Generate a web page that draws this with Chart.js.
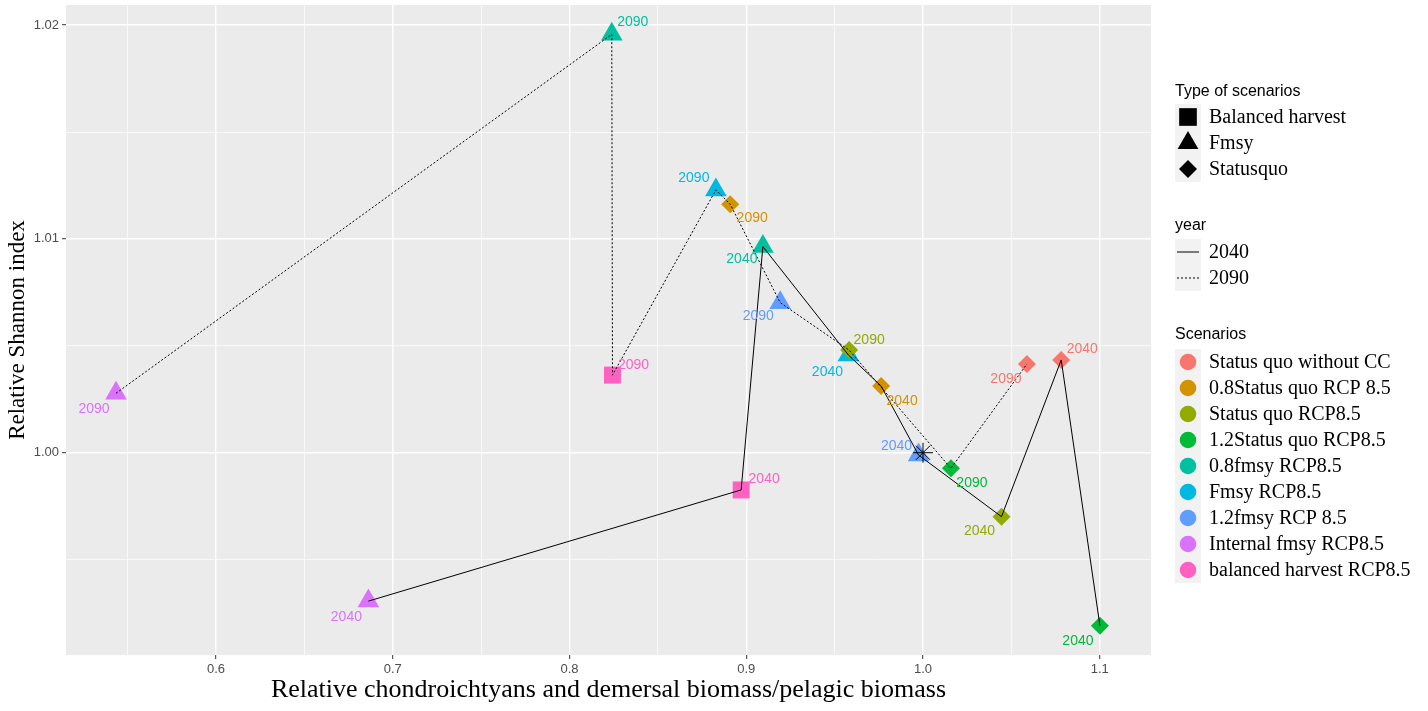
<!DOCTYPE html>
<html>
<head>
<meta charset="utf-8">
<script src="https://cdn.jsdelivr.net/npm/chart.js@4.4.1/dist/chart.umd.min.js"></script>
<style>
  html, body { margin: 0; padding: 0; background: #fff; }
  #wrap { width: 1428px; height: 711px; }
</style>
</head>
<body>
<div id="wrap"><canvas id="chart" width="1428" height="711"></canvas></div>
<script>
// Scenarios, colours and type of each one
const scenarioNames = ['Status quo without CC', '0.8Status quo RCP 8.5', 'Status quo RCP8.5', '1.2Status quo RCP8.5',
  '0.8fmsy RCP8.5', 'Fmsy RCP8.5', '1.2fmsy RCP 8.5', 'Internal fmsy RCP8.5', 'balanced harvest RCP8.5']
const scenarioColors = ['#F8766D', '#D39200', '#93AA00', '#00BA38', '#00C19F', '#00B9E3', '#619CFF', '#DB72FB', '#FF61C3']
const scenarioType = ['Statusquo', 'Statusquo', 'Statusquo', 'Statusquo', 'Fmsy', 'Fmsy', 'Fmsy', 'Fmsy', 'Balanced harvest']
const typeNames = ['Balanced harvest', 'Fmsy', 'Statusquo']
const yearNames = ['2040', '2090']

// Values (same order as scenarioNames)
const x2040 = [1.0782, 0.9763, 1.0444, 1.1001, 0.9094, 0.9578, 0.9975, 0.6862, 0.8971]
const y2040 = [1.00434, 1.00312, 0.99701, 0.99191, 1.00964, 1.00457, 0.99989, 0.99306, 0.99826]
const x2090 = [1.0588, 0.8909, 0.9582, 1.0158, 0.8239, 0.8828, 0.9192, 0.5434, 0.8243]
const y2090 = [1.00415, 1.01162, 1.0048, 0.99927, 1.01957, 1.01229, 1.00702, 1.00278, 1.00363]
const refX = [1.0]
const refY = [1.0]

// Axis ticks
const xMajor = [0.6, 0.7, 0.8, 0.9, 1.0, 1.1]
const xMinor = [0.55, 0.65, 0.75, 0.85, 0.95, 1.05]
const yMajor = [1.0, 1.01, 1.02]
const yMinor = [0.995, 1.005, 1.015]

// -------------------------

const shapeOf = {
  'Balanced harvest': { style: 'rect', r: 12 },
  'Fmsy': { style: 'triangle', r: 12.5 },
  'Statusquo': { style: 'rectRot', r: 9 },
}

// pixel offsets of the year labels (text centre), like ggrepel put them
const nudge2040 = [[21, -11], [21, 15], [-22, 14], [-22, 15], [-21, 13], [-21, 17], [-22, -9], [-22, 16], [23, -11]]
const nudge2090 = [[-21, 15], [22, 14], [20, -10], [21, 15], [21, -12], [-22, -12], [-22, 14], [-22, 16], [21, -10]]

const isIn = (list, v) => list.some((m) => Math.abs(m - v) < 1e-9)

const sortedLine = (xs, ys) => xs.map((x, i) => ({ x, y: ys[i] })).sort((a, b) => a.x - b.x)

const scenarioDatasets = scenarioNames.map((name, i) => {
  const shape = shapeOf[scenarioType[i]]
  return {
    label: name,
    data: [
      { x: x2040[i], y: y2040[i], year: '2040' },
      { x: x2090[i], y: y2090[i], year: '2090' },
    ],
    pointStyle: shape.style,
    pointRadius: shape.r,
    backgroundColor: scenarioColors[i],
    borderWidth: 0,
    order: 2,
  }
})

const lineDatasets = [
  {
    label: '2040',
    data: sortedLine(x2040, y2040),
    showLine: true,
    pointRadius: 0,
    borderColor: '#000',
    borderWidth: 1,
    order: 1,
  },
  {
    label: '2090',
    data: sortedLine(x2090, y2090),
    showLine: true,
    pointRadius: 0,
    borderColor: '#000',
    borderWidth: 1,
    borderDash: [2, 2],
    order: 1,
  },
  {
    label: 'ref',
    data: refX.map((x, i) => ({ x, y: refY[i] })),
    pointStyle: 'star',
    pointRadius: 10,
    borderColor: '#000',
    borderWidth: 1,
    backgroundColor: '#000',
    order: 0,
  },
]

// Panel background
const panelBg = {
  id: 'panelBg',
  beforeDraw(chart) {
    const { ctx, chartArea: a } = chart
    ctx.save()
    ctx.fillStyle = '#EBEBEB'
    ctx.fillRect(a.left, a.top, a.right - a.left, a.bottom - a.top)
    ctx.restore()
  },
}

// Year labels next to the points
const yearLabels = {
  id: 'yearLabels',
  afterDatasetsDraw(chart) {
    const { ctx } = chart
    ctx.save()
    ctx.font = '14px "Liberation Sans", Arial, sans-serif'
    ctx.textAlign = 'center'
    ctx.textBaseline = 'middle'
    scenarioNames.forEach((_, i) => {
      const meta = chart.getDatasetMeta(i)
      meta.data.forEach((pt, j) => {
        const n = j === 0 ? nudge2040[i] : nudge2090[i]
        ctx.fillStyle = scenarioColors[i]
        ctx.fillText(yearNames[j], pt.x + n[0], pt.y + n[1])
      })
    })
    ctx.restore()
  },
}

// Axis titles and the three legends on the right
const sideLegend = {
  id: 'sideLegend',
  afterDraw(chart) {
    const { ctx, chartArea: a } = chart
    const drawPoint = Chart.helpers.drawPoint
    ctx.save()

    ctx.fillStyle = '#000'
    ctx.textAlign = 'center'
    ctx.textBaseline = 'middle'
    ctx.font = '26px "Liberation Serif", "Times New Roman", serif'
    ctx.fillText('Relative chondroichtyans and demersal biomass/pelagic biomass', (a.left + a.right) / 2, 690)
    ctx.font = '23px "Liberation Serif", "Times New Roman", serif'
    ctx.save()
    ctx.translate(18, (a.top + a.bottom) / 2)
    ctx.rotate(-Math.PI / 2)
    ctx.fillText('Relative Shannon index', 0, 0)
    ctx.restore()

    const keyX = 1175
    const keyW = 26
    const rowH = 26
    const textX = 1209
    const titleFont = '16px "Liberation Sans", Arial, sans-serif'
    const labelFont = '20px "Liberation Serif", "Times New Roman", serif'

    const block = (title, titleY, top, n, drawKey, labels) => {
      ctx.font = titleFont
      ctx.textAlign = 'left'
      ctx.textBaseline = 'alphabetic'
      ctx.fillStyle = '#000'
      ctx.fillText(title, keyX, titleY)
      ctx.fillStyle = '#F2F2F2'
      ctx.fillRect(keyX, top, keyW, rowH * n)
      for (let i = 0; i < n; i++) {
        const cy = top + rowH * i + rowH / 2
        drawKey(i, keyX + keyW / 2, cy)
        ctx.font = labelFont
        ctx.textBaseline = 'middle'
        ctx.fillStyle = '#000'
        ctx.fillText(labels[i], textX, cy + 1)
      }
    }

    block('Type of scenarios', 96, 104, typeNames.length, (i, cx, cy) => {
      const s = typeNames[i]
      const opts = {
        'Balanced harvest': { pointStyle: 'rect', radius: 12.5 },
        'Fmsy': { pointStyle: 'triangle', radius: 12 },
        'Statusquo': { pointStyle: 'rectRot', radius: 9 },
      }[s]
      ctx.fillStyle = '#000'
      drawPoint(ctx, { ...opts, borderWidth: 0, rotation: 0 }, cx, cy)
    }, typeNames)

    block('year', 230, 239, yearNames.length, (i, cx, cy) => {
      ctx.strokeStyle = '#000'
      ctx.lineWidth = 1
      ctx.setLineDash(i === 0 ? [] : [2, 2])
      ctx.beginPath()
      ctx.moveTo(keyX + 2, cy)
      ctx.lineTo(keyX + keyW - 2, cy)
      ctx.stroke()
      ctx.setLineDash([])
    }, yearNames)

    block('Scenarios', 339, 349, scenarioNames.length, (i, cx, cy) => {
      ctx.fillStyle = scenarioColors[i]
      ctx.beginPath()
      ctx.arc(cx, cy, 8.3, 0, Math.PI * 2)
      ctx.fill()
    }, scenarioNames)

    ctx.restore()
  },
}

const gridWidth = (majors) => (c) => (c.tick && isIn(majors, c.tick.value) ? 1.4 : 0.7)
const tickColor = (majors) => (c) => (c.tick && isIn(majors, c.tick.value) ? '#333333' : 'rgba(0,0,0,0)')

new Chart(document.getElementById('chart').getContext('2d'), {
  type: 'scatter',
  data: {
    datasets: [...scenarioDatasets, ...lineDatasets],
  },
  options: {
    responsive: false,
    animation: false,
    devicePixelRatio: 1,
    layout: { autoPadding: false, padding: { top: 5, right: 277, left: 0, bottom: 0 } },
    plugins: {
      legend: { display: false },
      tooltip: { enabled: false },
    },
    scales: {
      x: {
        type: 'linear',
        min: 0.5151,
        max: 1.129,
        afterBuildTicks: (s) => { s.ticks = [...xMinor, ...xMajor].sort((p, q) => p - q).map((v) => ({ value: v })) },
        afterFit: (s) => { s.height = 56; s.paddingLeft = 0; s.paddingRight = 0 },
        border: { display: false },
        grid: { color: '#FFFFFF', lineWidth: gridWidth(xMajor), tickColor: tickColor(xMajor), tickLength: 4, tickWidth: 1 },
        ticks: {
          autoSkip: false,
          maxRotation: 0,
          padding: 3,
          color: '#4D4D4D',
          font: { family: '"Liberation Sans", Arial, sans-serif', size: 13 },
          callback: (v) => (isIn(xMajor, v) ? v.toFixed(1) : ''),
        },
      },
      y: {
        type: 'linear',
        min: 0.99054,
        max: 1.02094,
        afterBuildTicks: (s) => { s.ticks = [...yMinor, ...yMajor].sort((p, q) => p - q).map((v) => ({ value: v })) },
        afterFit: (s) => { s.width = 66; s.paddingTop = 0; s.paddingBottom = 0 },
        border: { display: false },
        grid: { color: '#FFFFFF', lineWidth: gridWidth(yMajor), tickColor: tickColor(yMajor), tickLength: 4, tickWidth: 1 },
        ticks: {
          autoSkip: false,
          padding: 3,
          color: '#4D4D4D',
          font: { family: '"Liberation Sans", Arial, sans-serif', size: 13 },
          callback: (v) => (isIn(yMajor, v) ? v.toFixed(2) : ''),
        },
      },
    },
  },
  plugins: [panelBg, yearLabels, sideLegend],
})
</script>
</body>
</html>
